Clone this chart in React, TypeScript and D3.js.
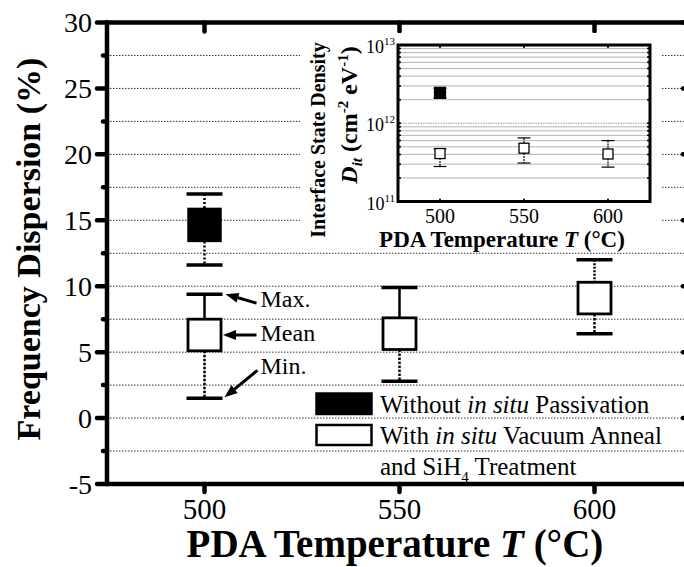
import React from 'react';
import * as d3 from 'd3';

// main panel: frequency dispersion (%)
const tempTicks = [500, 550, 600];
const dispTicks = [-5, 0, 5, 10, 15, 20, 25, 30];
const dispMinor = [-2.5, 2.5, 7.5, 12.5, 17.5, 22.5, 27.5];

// without in situ passivation (500 C only)
const noPassTemp = [500];
const noPassMax = [17.0];
const noPassHigh = [15.9];
const noPassLow = [13.4];
const noPassMin = [11.6];

// with in situ vacuum anneal and SiH4 treatment
const passTemp = [500, 550, 600];
const passMax = [9.4, 9.9, 12.0];
const passHigh = [7.5, 7.6, 10.3];
const passLow = [5.1, 5.2, 7.9];
const passMin = [1.5, 2.8, 6.4];

// inset: interface state density Dit
const ditNoPassMean = [2.45e12];
const ditNoPassHigh = [2.8e12];
const ditNoPassLow = [2.1e12];
const ditPassMean = [4.1e11, 4.8e11, 4.05e11];
const ditPassHigh = [4.7e11, 6.5e11, 6.0e11];
const ditPassLow = [2.8e11, 3.1e11, 2.75e11];
const ditDecades = [1e11, 1e12, 1e13];
const ditExps = ['11', '12', '13'];

const FONT = '"Liberation Serif", "Times New Roman", serif';

function arrow(x1: number, y1: number, x2: number, y2: number, key: string) {
  // line from (x1,y1) to tip (x2,y2)
  const a = Math.atan2(y2 - y1, x2 - x1);
  const L = 13, Wd = 5;
  const bx = x2 - L * Math.cos(a), by = y2 - L * Math.sin(a);
  const px = -Math.sin(a) * Wd, py = Math.cos(a) * Wd;
  return (
    <g key={key}>
      <line x1={x1} y1={y1} x2={bx} y2={by} stroke="#000" strokeWidth={3} />
      <polygon points={`${x2},${y2} ${bx + px},${by + py} ${bx - px},${by - py}`} fill="#000" />
    </g>
  );
}

export default function App() {
  const W = 684, H = 567;
  const x = d3.scaleLinear().domain([475, 625]).range([107, 692]);
  const y = d3.scaleLinear().domain([-5, 30]).range([484, 22.5]);
  const [x0, x1] = x.range();
  const [yb, yt] = y.range();

  const xi = d3.scaleLinear().domain([475, 625]).range([398, 650]);
  const yi = d3.scaleLog().domain([1e11, 1e13]).range([201.5, 45]);
  const [xi0, xi1] = xi.range();
  const [yib, yit] = yi.range();
  const ditMinor = yi.ticks().filter(v => !ditDecades.includes(v));

  const boxW = 33, capW = 36;

  // annotation targets: first point of the passivated series
  const ax = x(passTemp[0]);
  const meanY = (y(passHigh[0]) + y(passLow[0])) / 2;

  return (
    <svg width={W} height={H} style={{ position: 'absolute', left: 0, top: 0, background: '#fff' }}
      fontFamily={FONT}>
      {/* grid lines */}
      {[...dispMinor, ...dispTicks.filter(v => v > -5 && v < 30)].map(v => (
        <line key={'g' + v} x1={x0} x2={x1} y1={y(v)} y2={y(v)} stroke="#333" strokeWidth={1}
          strokeDasharray="1.5,1.5" />
      ))}

      {/* whiskers */}
      {noPassTemp.map((t, i) => (
        <g key={'nw' + i} stroke="#000" strokeWidth={2.5} strokeDasharray="2,2">
          <line x1={x(t)} x2={x(t)} y1={y(noPassMax[i])} y2={y(noPassHigh[i])} />
          <line x1={x(t)} x2={x(t)} y1={y(noPassLow[i])} y2={y(noPassMin[i])} />
        </g>
      ))}
      {passTemp.map((t, i) => (
        <g key={'pw' + i} stroke="#000" strokeWidth={2.5}>
          <line x1={x(t)} x2={x(t)} y1={y(passMax[i])} y2={y(passHigh[i])}
            strokeDasharray={i === 2 ? '2,1.5' : undefined} />
          <line x1={x(t)} x2={x(t)} y1={y(passLow[i])} y2={y(passMin[i])} strokeDasharray="2.5,1.5" />
        </g>
      ))}
      {/* caps */}
      {noPassTemp.map((t, i) => (
        <g key={'nc' + i} stroke="#000" strokeWidth={3.5}>
          <line x1={x(t) - capW / 2} x2={x(t) + capW / 2} y1={y(noPassMax[i])} y2={y(noPassMax[i])} />
          <line x1={x(t) - capW / 2} x2={x(t) + capW / 2} y1={y(noPassMin[i])} y2={y(noPassMin[i])} />
        </g>
      ))}
      {passTemp.map((t, i) => (
        <g key={'pc' + i} stroke="#000" strokeWidth={3.5}>
          <line x1={x(t) - capW / 2} x2={x(t) + capW / 2} y1={y(passMax[i])} y2={y(passMax[i])} />
          <line x1={x(t) - capW / 2} x2={x(t) + capW / 2} y1={y(passMin[i])} y2={y(passMin[i])} />
        </g>
      ))}
      {/* boxes */}
      {noPassTemp.map((t, i) => (
        <rect key={'nb' + i} x={x(t) - boxW / 2} y={y(noPassHigh[i])} width={boxW}
          height={y(noPassLow[i]) - y(noPassHigh[i])} fill="#000" stroke="#000" strokeWidth={1.5} />
      ))}
      {passTemp.map((t, i) => (
        <rect key={'pb' + i} x={x(t) - boxW / 2} y={y(passHigh[i])} width={boxW}
          height={y(passLow[i]) - y(passHigh[i])} fill="#fff" stroke="#000" strokeWidth={2.8} />
      ))}

      {/* annotations */}
      {arrow(ax + 52, y(passMax[0]) + 9, ax + capW / 2 + 3, y(passMax[0]), 'amax')}
      {arrow(ax + 52, meanY, ax + boxW / 2 + 2, meanY, 'amean')}
      {arrow(ax + 53, y(passMin[0]) - 28, ax + capW / 2 + 2, y(passMin[0]) - 1, 'amin')}
      <g fontSize={24}>
        <text x={ax + 56} y={y(passMax[0]) + 13}>Max.</text>
        <text x={ax + 56} y={meanY + 6}>Mean</text>
        <text x={ax + 56} y={y(passMin[0]) - 24}>Min.</text>
      </g>

      {/* legend */}
      <rect x={316} y={393} width={56} height={21.5} fill="#000" stroke="#000" strokeWidth={1.5} />
      <rect x={316.5} y={425} width={55} height={20} fill="#fff" stroke="#000" strokeWidth={2.5} />
      <g fontSize={25}>
        <text x={380} y={413}>Without <tspan fontStyle="italic">in situ</tspan> Passivation</text>
        <text x={380} y={443.5}>With <tspan fontStyle="italic">in situ</tspan> Vacuum Anneal</text>
        <text x={380} y={474.5}>and SiH<tspan dy={7} fontSize={15}>4</tspan><tspan dy={-7}> Treatment</tspan></text>
      </g>

      {/* main axes frame */}
      <g stroke="#000" strokeWidth={4.5} strokeLinecap="round">
        <line x1={x0} x2={x0} y1={yt} y2={yb} />
        <line x1={x0} x2={x1} y1={yb} y2={yb} />
        <line x1={x0} x2={x1} y1={yt} y2={yt} />
        <line x1={x1} x2={x1} y1={yt} y2={yb} />
        {dispTicks.map(v => (
          <g key={'yt' + v}>
            <line x1={x0 - 10} x2={x0} y1={y(v)} y2={y(v)} />
            <line x1={x1 - 9} x2={x1} y1={y(v)} y2={y(v)} />
          </g>
        ))}
        {dispMinor.map(v => (
          <line key={'ym' + v} x1={x0 - 4} x2={x0} y1={y(v)} y2={y(v)} />
        ))}
        {tempTicks.map(t => (
          <g key={'xt' + t}>
            <line x1={x(t)} x2={x(t)} y1={yb} y2={yb + 8} />
            <line x1={x(t)} x2={x(t)} y1={yt} y2={yt + 9} />
          </g>
        ))}
      </g>
      <g fontSize={28} textAnchor="end">
        {dispTicks.map(v => (
          <text key={'yl' + v} x={x0 - 15} y={y(v) + 9.5}>{v}</text>
        ))}
      </g>
      <g fontSize={29} textAnchor="middle">
        {tempTicks.map(t => (
          <text key={'xl' + t} x={x(t)} y={519}>{t}</text>
        ))}
      </g>
      <text x={395} y={557} fontSize={39} fontWeight="bold" textAnchor="middle">
        PDA Temperature <tspan fontStyle="italic">T</tspan> (°C)
      </text>
      <text transform="translate(40,249) rotate(-90)" fontSize={34} fontWeight="bold" textAnchor="middle">
        Frequency Dispersion (%)
      </text>

      {/* inset */}
      <rect x={300} y={33} width={362} height={216} fill="#fff" />
      {ditMinor.map(v => (
        <line key={'ig' + v} x1={xi0} x2={xi1} y1={yi(v)} y2={yi(v)} stroke="#b4b4b4" strokeWidth={1} />
      ))}
      <line x1={xi0} x2={xi1} y1={yi(1e12)} y2={yi(1e12)} stroke="#999" strokeWidth={1} strokeDasharray="1.5,1" />
      {/* inset error bars */}
      {noPassTemp.map((t, i) => (
        <g key={'ie' + i} stroke="#000" strokeWidth={1.2}>
          <line x1={xi(t)} x2={xi(t)} y1={yi(ditNoPassHigh[i])} y2={yi(ditNoPassLow[i])} strokeDasharray="2,1" />
          <line x1={xi(t) - 6.5} x2={xi(t) + 6.5} y1={yi(ditNoPassHigh[i])} y2={yi(ditNoPassHigh[i])} />
          <line x1={xi(t) - 6.5} x2={xi(t) + 6.5} y1={yi(ditNoPassLow[i])} y2={yi(ditNoPassLow[i])} />
        </g>
      ))}
      {passTemp.map((t, i) => (
        <g key={'ip' + i} stroke="#000" strokeWidth={1.2}>
          <line x1={xi(t)} x2={xi(t)} y1={yi(ditPassHigh[i])} y2={yi(ditPassLow[i])} strokeDasharray="2,1" />
          <line x1={xi(t) - 6.5} x2={xi(t) + 6.5} y1={yi(ditPassHigh[i])} y2={yi(ditPassHigh[i])} />
          <line x1={xi(t) - 6.5} x2={xi(t) + 6.5} y1={yi(ditPassLow[i])} y2={yi(ditPassLow[i])} />
        </g>
      ))}
      {noPassTemp.map((t, i) => (
        <rect key={'is' + i} x={xi(t) - 5.5} y={yi(ditNoPassMean[i]) - 5.5} width={11} height={11}
          fill="#000" stroke="#000" strokeWidth={1.2} />
      ))}
      {passTemp.map((t, i) => (
        <rect key={'iw' + i} x={xi(t) - 5} y={yi(ditPassMean[i]) - 5} width={10} height={10}
          fill="#fff" stroke="#000" strokeWidth={1.3} />
      ))}
      <g stroke="#000" strokeWidth={2} strokeLinecap="round">
        {ditMinor.concat(ditDecades).map(v => (
          <g key={'it' + v}>
            <line x1={xi0} x2={xi0 + 2} y1={yi(v)} y2={yi(v)} />
            <line x1={xi1 - 2} x2={xi1} y1={yi(v)} y2={yi(v)} />
          </g>
        ))}
        {tempTicks.map(t => (
          <g key={'ix' + t}>
            <line x1={xi(t)} x2={xi(t)} y1={yit} y2={yit + 2} />
            <line x1={xi(t)} x2={xi(t)} y1={yib - 2} y2={yib} />
          </g>
        ))}
      </g>
      <rect x={xi0} y={yit} width={xi1 - xi0} height={yib - yit} fill="none" stroke="#000" strokeWidth={3} />
      <g fontSize={18} textAnchor="end">
        {ditDecades.map((v, i) => (
          <text key={'idl' + v} x={xi0 - 3} y={yi(v) + 8}>10<tspan dy={-8} fontSize={11}>{ditExps[i]}</tspan></text>
        ))}
      </g>
      <g fontSize={20} textAnchor="middle">
        {tempTicks.map(t => (
          <text key={'ixl' + t} x={xi(t)} y={223}>{t}</text>
        ))}
      </g>
      <text x={(xi0 + xi1) / 2 - 22} y={247} fontSize={23} fontWeight="bold" textAnchor="middle">
        PDA Temperature <tspan fontStyle="italic">T</tspan> (°C)
      </text>
      <text transform="translate(325,140) rotate(-90)" fontSize={20} fontWeight="bold" textAnchor="middle">
        Interface State Density
      </text>
      <text transform="translate(357,115) rotate(-90)" fontSize={24} fontWeight="bold" textAnchor="middle">
        <tspan fontStyle="italic">D</tspan><tspan fontStyle="italic" fontSize={15} dy={5}>it</tspan>
        <tspan dy={-5}> (cm</tspan><tspan fontSize={15} dy={-9}>-2</tspan><tspan dy={9}> eV</tspan>
        <tspan fontSize={15} dy={-9}>-1</tspan><tspan dy={9}>)</tspan>
      </text>
    </svg>
  );
}
